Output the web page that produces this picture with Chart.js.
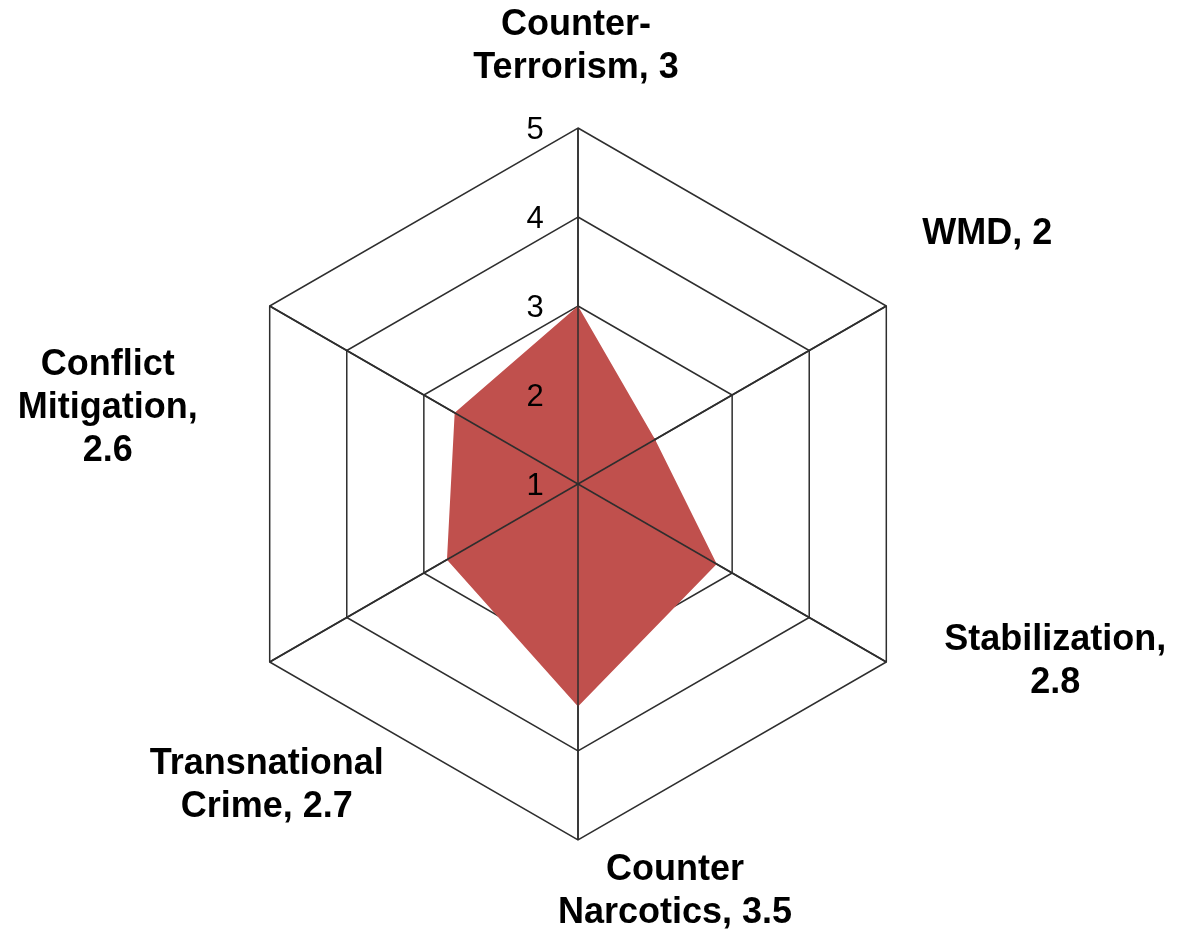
<!DOCTYPE html>
<html>
<head>
<meta charset="utf-8">
<script src="https://cdn.jsdelivr.net/npm/chart.js@4/dist/chart.umd.min.js"></script>
<style>
  html, body { margin: 0; padding: 0; background: #ffffff; }
  #wrap { width: 1178px; height: 936px; position: relative; }
</style>
</head>
<body>
<div id="wrap"><canvas id="c"></canvas></div>
<script>
// ---- data ----
const categories = [
  ["Counter-", "Terrorism, 3"],
  ["WMD, 2"],
  ["Stabilization,", "2.8"],
  ["Counter", "Narcotics, 3.5"],
  ["Transnational", "Crime, 2.7"],
  ["Conflict", "Mitigation,", "2.6"]
];
const values = [3, 2, 2.8, 3.5, 2.7, 2.6];
const tickValues = [1, 2, 3, 4, 5];

// ---- layout (offsets of label block centres from each outer vertex) ----
const labelOffsets = [
  [-2, -81],
  [101, -72],
  [169, 0],
  [97, 52],
  [-3, 124],
  [-162, 102]
];
const FONT = '"Liberation Sans", Arial, Helvetica, sans-serif';
const LINE_COLOR = '#2e2e2e';

const textPlugin = {
  id: 'radarText',
  afterDatasetsDraw(chart) {
    // spokes are visible on top of the filled area (rings stay underneath)
    const s = chart.scales.r;
    const ctx = chart.ctx;
    ctx.save();
    ctx.strokeStyle = LINE_COLOR;
    ctx.lineWidth = 1.5;
    chart.data.labels.forEach((_, i) => {
      const p = s.getPointPosition(i, s.drawingArea);
      ctx.beginPath();
      ctx.moveTo(s.xCenter, s.yCenter);
      ctx.lineTo(p.x, p.y);
      ctx.stroke();
    });
    ctx.restore();
  },
  afterDraw(chart) {
    const s = chart.scales.r;
    const ctx = chart.ctx;
    ctx.save();
    ctx.fillStyle = '#000000';
    ctx.textAlign = 'center';
    ctx.textBaseline = 'middle';
    // tick labels, left of the vertical axis
    ctx.font = '31px ' + FONT;
    s.ticks.forEach(t => {
      if (!tickValues.includes(t.value)) return;
      const d = s.getDistanceFromCenterForValue(t.value);
      ctx.fillText(t.label, s.xCenter - 43, s.yCenter - d + 2);
    });
    // category labels
    ctx.font = 'bold 36px ' + FONT;
    const lh = 43;
    chart.data.labels.forEach((lines, i) => {
      const p = s.getPointPosition(i, s.drawingArea);
      const [dx, dy] = labelOffsets[i];
      const arr = Array.isArray(lines) ? lines : [lines];
      const y0 = p.y + dy - (arr.length - 1) * lh / 2;
      arr.forEach((ln, k) => ctx.fillText(ln, p.x + dx, y0 + k * lh));
    });
    ctx.restore();
  }
};

new Chart(document.getElementById('c'), {
  type: 'radar',
  data: {
    labels: categories,
    datasets: [{
      data: values,
      backgroundColor: '#C0504D',
      borderWidth: 0,
      borderColor: 'rgba(0,0,0,0)',
      pointRadius: 0,
      pointHoverRadius: 0,
      fill: true
    }]
  },
  options: {
    responsive: true,
    maintainAspectRatio: false,
    animation: false,
    events: [],
    layout: { padding: { left: 222, right: 244, top: 128, bottom: 96 } },
    plugins: { legend: { display: false }, tooltip: { enabled: false } },
    scales: {
      r: {
        min: tickValues[0],
        max: tickValues[tickValues.length - 1],
        ticks: { stepSize: 1, display: false },
        pointLabels: { display: false },
        grid: { color: LINE_COLOR, lineWidth: 1.5 },
        angleLines: { color: LINE_COLOR, lineWidth: 1.5 }
      }
    }
  },
  plugins: [textPlugin]
});
</script>
</body>
</html>
